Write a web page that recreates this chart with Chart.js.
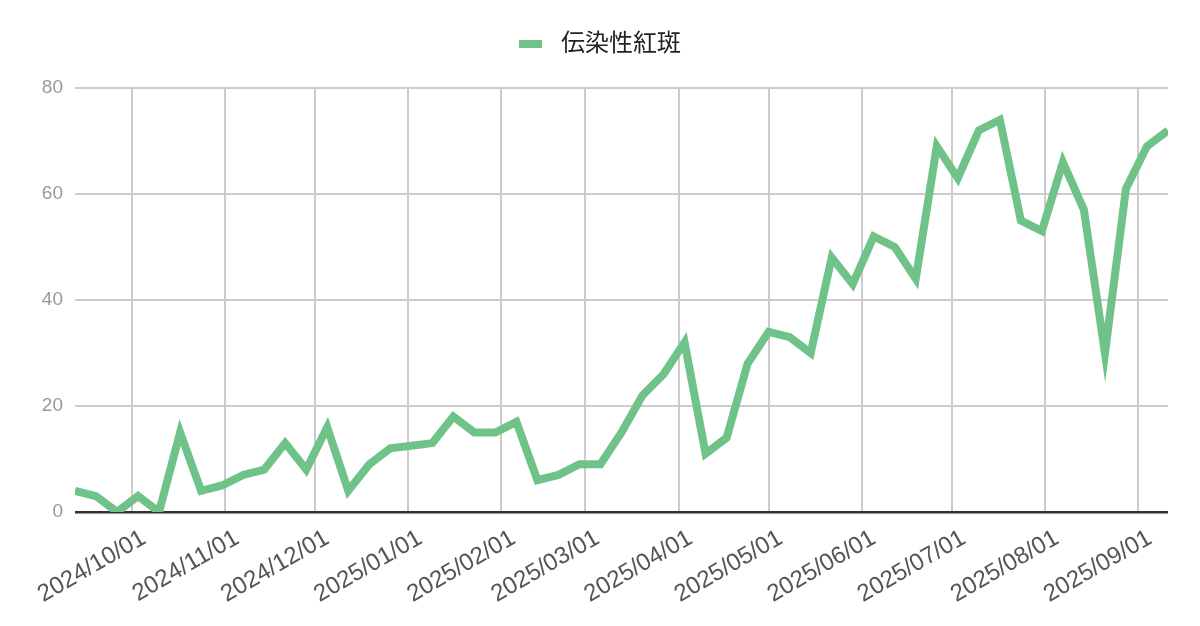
<!DOCTYPE html>
<html>
<head>
<meta charset="utf-8">
<script src="https://cdn.jsdelivr.net/npm/chart.js@4"></script>
<style>
  body { margin: 0; background: #fff; }
</style>
</head>
<body>
<canvas id="chart" width="1200" height="626"></canvas>
<script>
const seriesName = "伝染性紅斑";

const weekDates = [
  "2024-09-12", "2024-09-19", "2024-09-26", "2024-10-03", "2024-10-10", "2024-10-17",
  "2024-10-24", "2024-10-31", "2024-11-07", "2024-11-14", "2024-11-21", "2024-11-28",
  "2024-12-05", "2024-12-12", "2024-12-19", "2024-12-26", "2025-01-02", "2025-01-09",
  "2025-01-16", "2025-01-23", "2025-01-30", "2025-02-06", "2025-02-13", "2025-02-20",
  "2025-02-27", "2025-03-06", "2025-03-13", "2025-03-20", "2025-03-27", "2025-04-03",
  "2025-04-10", "2025-04-17", "2025-04-24", "2025-05-01", "2025-05-08", "2025-05-15",
  "2025-05-22", "2025-05-29", "2025-06-05", "2025-06-12", "2025-06-19", "2025-06-26",
  "2025-07-03", "2025-07-10", "2025-07-17", "2025-07-24", "2025-07-31", "2025-08-07",
  "2025-08-14", "2025-08-21", "2025-08-28", "2025-09-04", "2025-09-11",
];

const cases = [
  4, 3, 0, 3, 0, 15,
  4, 5, 7, 8, 13, 8,
  16, 4, 9, 12, 12.5, 13,
  18, 15, 15, 17, 6, 7,
  9, 9, 15, 22, 26, 32,
  11, 14, 28, 34, 33, 30,
  48, 43, 52, 50, 44, 69,
  63, 72, 74, 55, 53, 66,
  57, 30, 61, 69, 72,
];

const monthTicks = [
  "2024-10-01", "2024-11-01", "2024-12-01", "2025-01-01", "2025-02-01", "2025-03-01",
  "2025-04-01", "2025-05-01", "2025-06-01", "2025-07-01", "2025-08-01", "2025-09-01",
];

const yTicks = [0, 20, 40, 60, 80];

const green = "#6fc388";
const fontFamily = '"Liberation Sans", Arial, "Noto Sans CJK JP", sans-serif';

const toDay = (s) => Date.parse(s + "T00:00:00Z") / 86400000;
const fromDay = (d) => {
  const dt = new Date(d * 86400000);
  const mm = String(dt.getUTCMonth() + 1).padStart(2, "0");
  const dd = String(dt.getUTCDate()).padStart(2, "0");
  return `${dt.getUTCFullYear()}/${mm}/${dd}`;
};

const points = weekDates.map((d, i) => ({ x: toDay(d), y: cases[i] }));

// legend swatch: 23x8 bar on the left of a 30px wide canvas, so the text sits further right
const swatch = document.createElement("canvas");
swatch.width = 30;
swatch.height = 8;
const sctx = swatch.getContext("2d");
sctx.fillStyle = green;
sctx.fillRect(0, 0, 23, 8);

// push the plot area down below the legend
const legendGap = {
  id: "legendGap",
  beforeLayout(chart) {
    const lg = chart.legend;
    if (lg && !lg._gapPatched) {
      const fit = lg.fit.bind(lg);
      lg.fit = function () {
        fit();
        this.height += 22;
      };
      lg._gapPatched = true;
    }
  },
};

const config = {
  type: "line",
  data: {
    datasets: [
      {
        label: seriesName,
        data: points,
        borderColor: green,
        backgroundColor: green,
        borderWidth: 8,
        pointRadius: 0,
        tension: 0,
        clip: 0,
      },
    ],
  },
  options: {
    responsive: false,
    animation: false,
    layout: { padding: { left: 0, right: 0, top: 0, bottom: 0 } },
    plugins: {
      legend: {
        position: "top",
        labels: {
          usePointStyle: true,
          pointStyle: swatch,
          pointStyleWidth: 30,
          boxHeight: 8,
          padding: 32,
          color: "#222",
          font: { family: fontFamily, size: 24 },
        },
      },
      tooltip: { enabled: false },
    },
    scales: {
      x: {
        type: "linear",
        z: -1,
        min: toDay(weekDates[0]),
        max: toDay(weekDates[weekDates.length - 1]),
        afterBuildTicks: (scale) => {
          scale.ticks = monthTicks.map((m) => ({ value: toDay(m) }));
        },
        afterFit: (scale) => {
          scale.height = 114;
          scale.paddingLeft = 0;
          scale.paddingRight = 32;
        },
        grid: { color: "#cccccc", lineWidth: 2, drawTicks: false },
        border: { display: false },
        ticks: {
          autoSkip: false,
          minRotation: 30,
          maxRotation: 30,
          labelOffset: 12,
          padding: 12,
          color: "#555",
          font: { family: fontFamily, size: 24 },
          callback: (v) => fromDay(v),
        },
      },
      y: {
        min: yTicks[0],
        max: yTicks[yTicks.length - 1],
        afterBuildTicks: (scale) => {
          scale.ticks = yTicks.map((v) => ({ value: v }));
        },
        afterFit: (scale) => {
          scale.width = 75;
        },
        grid: {
          drawTicks: false,
          color: (ctx) => (ctx.tick && ctx.tick.value === 0 ? "#333" : "#cccccc"),
          lineWidth: (ctx) => (ctx.tick && ctx.tick.value === 0 ? 2.5 : 2),
        },
        border: { display: false },
        ticks: {
          padding: 12,
          color: "#999",
          font: { family: fontFamily, size: 19 },
        },
      },
    },
  },
  plugins: [legendGap],
};

new Chart(document.getElementById("chart"), config);
</script>
</body>
</html>
